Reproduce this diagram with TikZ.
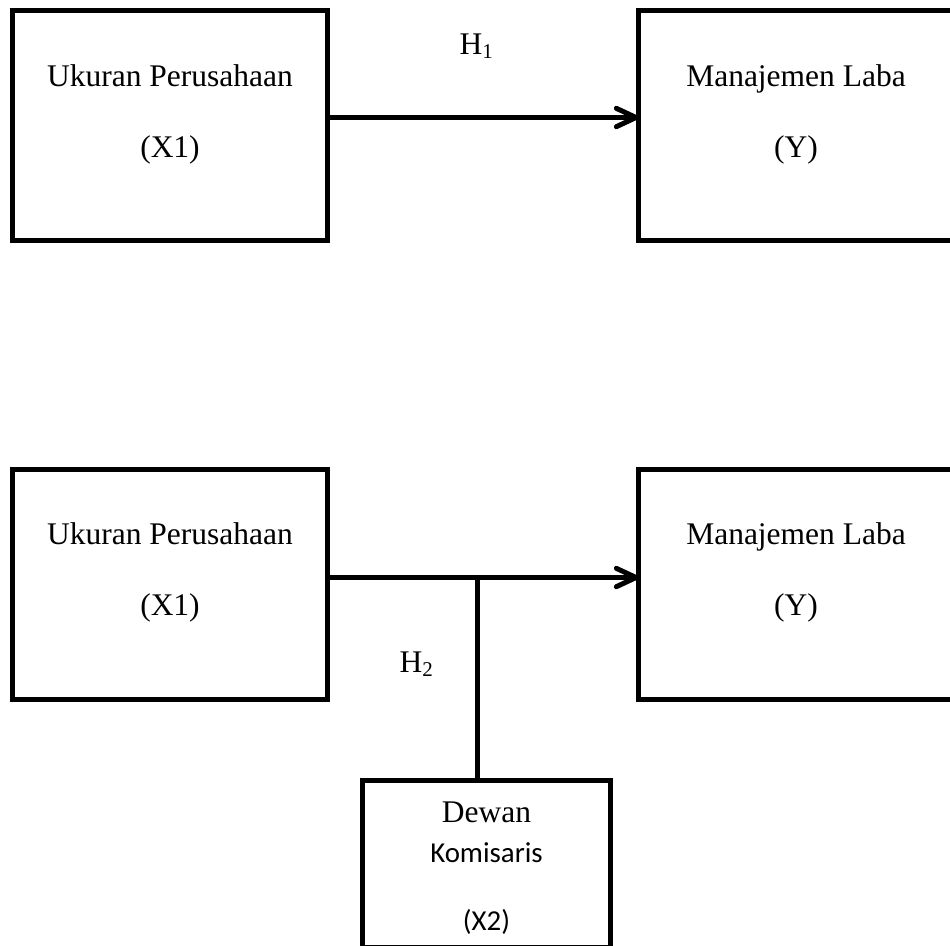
\documentclass[tikz,border=0pt]{standalone}
\usepackage{fontspec}
\setmainfont{Liberation Serif}
\newfontfamily\calibrifont{Carlito}
\usetikzlibrary{arrows.meta}
\newlength\pxu
\setlength\pxu{0.381pt}
\tikzset{
	varbox/.style={draw, line width=1.9pt, minimum width=315\pxu, minimum height=230.5\pxu, inner sep=0pt, outer sep=0pt},
	lbl/.style={font=\fontsize{12}{14}\selectfont, anchor=base, inner sep=0pt},
	lblsans/.style={font=\calibrifont\fontsize{11}{13}\selectfont, anchor=base, inner sep=0pt},
	link/.style={line width=1.9pt, -{Straight Barb[length=7.5pt,width=7pt,line join=round,line cap=round]}},
}

\begin{document}
\begin{tikzpicture}[x=0.381pt, y=-0.381pt]
		\clip (0,0) rectangle (950,945);
		\fill[white] (0,0) rectangle (950,945);
		% boxes
		\node[varbox] (ukuran1) at (170,125.25) {};
		\node[varbox] (laba1) at (796,125.25) {};
		\node[varbox] (ukuran2) at (170,584.25) {};
		\node[varbox] (laba2) at (796,584.25) {};
		\node[varbox, minimum width=248\pxu, minimum height=166.5\pxu] (dewan) at (486.5,863.75) {};
		% junction on the second arrow
		\coordinate (junc) at (477,577.5);
		% arrows
		\draw[link] ([yshift=7.75\pxu]ukuran1.east) -- ([yshift=7.75\pxu]laba1.west);
		\draw[link] ([yshift=6.75\pxu]ukuran2.east) -- ([yshift=6.75\pxu]laba2.west);
		\draw[line width=1.9pt] (junc |- dewan.north) -- (junc);
		% labels
		\node[lbl] (ukuranA) at (170,86) {Ukuran Perusahaan};
		\node[lbl] (ukuranB) at (170,157) {(X1)};
		\node[lbl] (labaA) at (796,86) {Manajemen Laba};
		\node[lbl] (labaB) at (796,157) {(Y)};
		\node[lbl] (ukuranC) at (170,544) {Ukuran Perusahaan};
		\node[lbl] (ukuranD) at (170,615) {(X1)};
		\node[lbl] (labaC) at (796,544) {Manajemen Laba};
		\node[lbl] (labaD) at (796,615) {(Y)};
		\node[lbl] (hyp1) at (477,54) {H\textsubscript{1}};
		\node[lbl] (hyp2) at (417,672) {H\textsubscript{2}};
		\node[lbl] (dewanA) at (486.5,822) {Dewan};
		\node[lblsans] (dewanB) at (486.5,862) {Komisaris};
		\node[lblsans] (dewanC) at (486.5,930) {(X2)};
	\end{tikzpicture}
\end{document}
